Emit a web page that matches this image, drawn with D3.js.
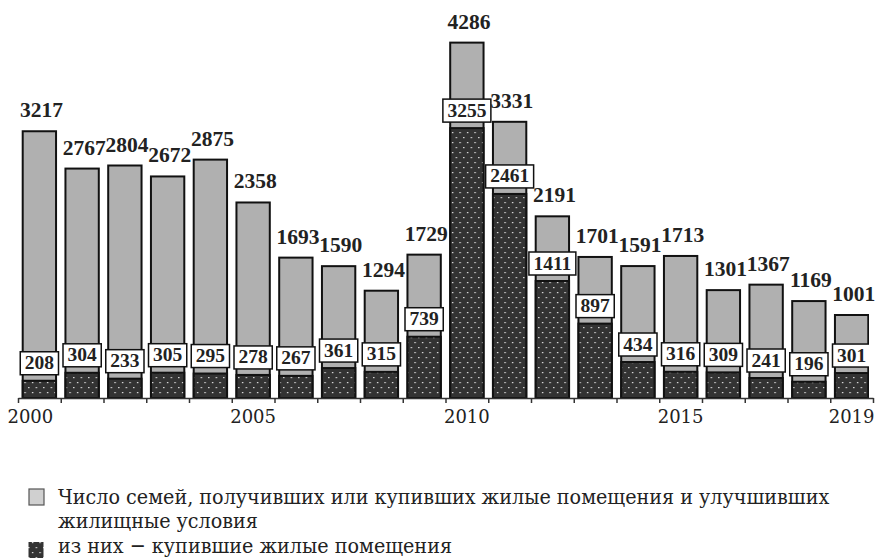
<!DOCTYPE html>
<html><head><meta charset="utf-8">
<script src="https://cdn.jsdelivr.net/npm/d3@7"></script>
<style>
html,body{margin:0;padding:0;background:#fff;}
svg{display:block;}
</style></head>
<body>
<svg id="chart" width="880" height="559"></svg>
<script>
const years = ["2000","2001","2002","2003","2004","2005","2006","2007","2008","2009","2010","2011","2012","2013","2014","2015","2016","2017","2018","2019"];
const totalFamilies = [3217,2767,2804,2672,2875,2358,1693,1590,1294,1729,4286,3331,2191,1701,1591,1713,1301,1367,1169,1001];
const boughtFamilies = [208,304,233,305,295,278,267,361,315,739,3255,2461,1411,897,434,316,309,241,196,301];
const tickLabels = ["2000","2005","2010","2015","2019"];
const legendTotal = ["Число семей, получивших или купивших жилые помещения и улучшивших", "жилищные условия"];
const legendBought = "из них \u2212 купившие жилые помещения";

const svg = d3.select("#chart");
const W = 880, H = 559;
const left = 18, right = 873, base = 398;

const defs = svg.append("defs");
const pat = defs.append("pattern").attr("id","dots").attr("patternUnits","userSpaceOnUse")
  .attr("width",7.5).attr("height",10);
pat.append("rect").attr("width",7.5).attr("height",10).attr("fill","#333");
pat.append("rect").attr("x",2).attr("y",2).attr("width",1.2).attr("height",1.2).attr("fill","#fff");
pat.append("rect").attr("x",5.75).attr("y",7).attr("width",1.2).attr("height",1.2).attr("fill","#fff");

defs.append("clipPath").attr("id","plotclip").append("rect")
  .attr("x",0).attr("y",0).attr("width",right-4).attr("height",H);

const x = d3.scaleBand().domain(years).range([left,right]).paddingInner(0.22).paddingOuter(0.11);
const y = d3.scaleLinear().domain([0,4800]).range([base,0]);
const bw = x.bandwidth();

const g = svg.append("g").attr("clip-path","url(#plotclip)");

// total bars
g.selectAll("rect.total").data(years).join("rect").attr("class","total")
  .attr("x",d=>x(d)).attr("width",bw)
  .attr("y",(d,i)=>y(totalFamilies[i])).attr("height",(d,i)=>base-y(totalFamilies[i]))
  .attr("fill","#b0b0b0").attr("stroke","#111").attr("stroke-width",2);

// bought bars
g.selectAll("rect.bought").data(years).join("rect").attr("class","bought")
  .attr("x",d=>x(d)).attr("width",bw)
  .attr("y",(d,i)=>y(boughtFamilies[i])).attr("height",(d,i)=>base-y(boughtFamilies[i]))
  .attr("fill","url(#dots)").attr("stroke","#111").attr("stroke-width",2);

// boxed labels for bought
const boxes = g.selectAll("g.box").data(years).join("g").attr("class","box");
boxes.each(function(d,i){
  const gg = d3.select(this);
  const cx = x(d)+bw/2;
  const bottom = y(boughtFamilies[i]) - 6;
  const t = gg.append("text").attr("x",cx).attr("y",bottom-5.5)
    .attr("text-anchor","middle")
    .attr("font-family","'Liberation Serif', serif").attr("font-weight","bold")
    .attr("font-size",19.5).attr("fill","#222").text(boughtFamilies[i]);
  const tw = t.node().getComputedTextLength();
  gg.insert("rect","text").attr("x",cx-tw/2-4.5).attr("width",tw+9)
    .attr("y",bottom-23).attr("height",23)
    .attr("fill","#fff").attr("stroke","#111").attr("stroke-width",1.5);
});

// top labels
svg.selectAll("text.top").data(years).join("text").attr("class","top")
  .attr("x",d=>x(d)+bw/2+2).attr("y",(d,i)=>y(totalFamilies[i])-14)
  .attr("text-anchor","middle")
  .attr("font-family","'Liberation Serif', serif").attr("font-weight","bold")
  .attr("font-size",21.5).attr("fill","#222").text((d,i)=>totalFamilies[i]);

// axis
const xi = d3.scaleLinear().domain([0,years.length]).range([left,right]);
const axis = svg.append("g").attr("transform",`translate(0,${base})`)
  .call(d3.axisBottom(xi).tickValues(d3.range(years.length+1)).tickFormat("").tickSize(5).tickSizeOuter(0));
axis.selectAll("path,line").attr("stroke","#333").attr("stroke-width",1.5);

svg.selectAll("text.year").data(tickLabels).join("text").attr("class","year")
  .attr("x",(d,i)=>x(d)+bw/2 - (i===0?9:0)).attr("y",423)
  .attr("text-anchor","middle")
  .attr("font-family","'DejaVu Serif', serif").attr("font-size",18).attr("fill","#222").text(d=>d);

// legend
const lg = svg.append("g");
lg.append("rect").attr("x",29).attr("y",489).attr("width",15).attr("height",16)
  .attr("fill","#d0d0d0").attr("stroke","#555").attr("stroke-width",1.2);
lg.append("rect").attr("x",28.5).attr("y",542).attr("width",15).attr("height",16)
  .attr("fill","url(#dots)");
const lfont = "'DejaVu Serif Condensed', 'DejaVu Serif', serif";
legendTotal.forEach((s,i)=>{
  lg.append("text").attr("x",58).attr("y",504+i*24).text(s)
    .attr("font-family",lfont).attr("font-size",21.3).attr("fill","#222");
});
lg.append("text").attr("x",58).attr("y",553).text(legendBought)
  .attr("font-family",lfont).attr("font-size",21.3).attr("fill","#222");
</script>
</body></html>
